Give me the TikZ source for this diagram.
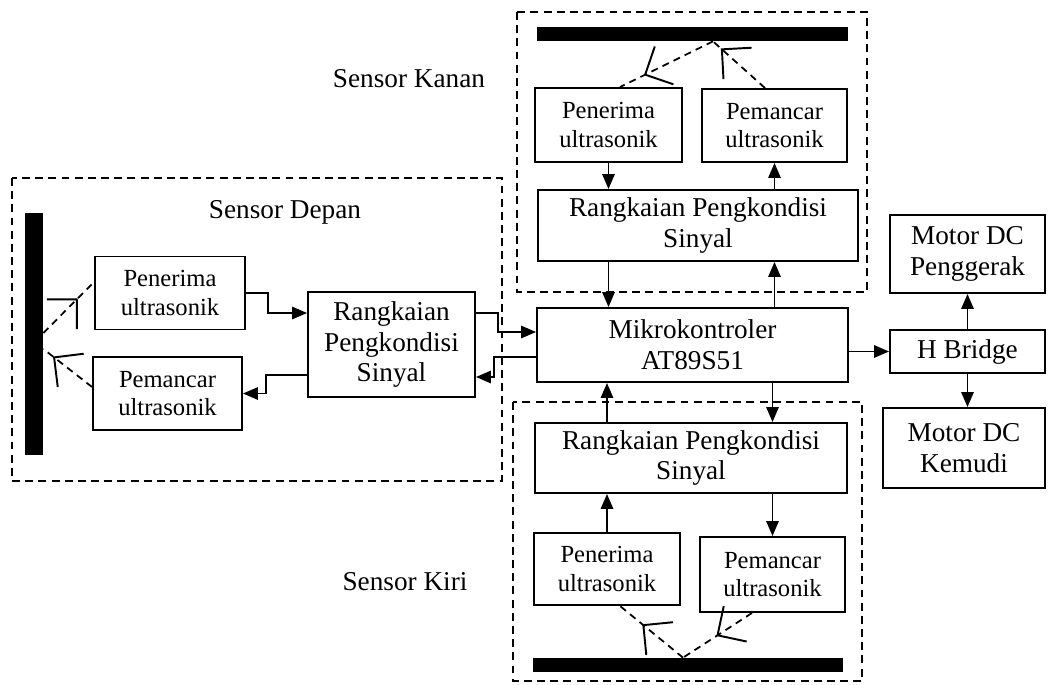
\documentclass[tikz,border=0pt]{standalone}
\usepackage{fontspec}
\setmainfont{Liberation Serif}
\usetikzlibrary{arrows.meta, decorations.markings}

\begin{document}
\begin{tikzpicture}[x=0.02cm, y=-0.02cm,
    blok/.style={draw, line width=1.1pt, align=center, inner sep=1pt, font=\fontsize{14}{16}\selectfont},
    blokbesar/.style={blok, font=\fontsize{15.5}{17.5}\selectfont},
    batang/.style={fill=black, draw=none, inner sep=0pt},
    bingkai/.style={line width=1.1pt, dash pattern=on 4.5pt off 3pt},
    judul/.style={font=\fontsize{15.5}{17.5}\selectfont},
    panah/.style={-{Triangle[length=8.5pt, width=7pt]}, line width=1.1pt},
    pantul/.style={line width=1pt, dash pattern=on 4pt off 3pt, postaction={decorate},
        decoration={markings, mark=at position #1 with {\draw[solid, line width=1.1pt] (-12pt,12pt) -- (0pt,0pt) -- (-12pt,-12pt);}}}]
    \useasboundingbox (0,0) rectangle (1049,684);

    % Draw the dashed frames of the three sensors
    \draw[bingkai] (12,178) rectangle (502,481);
    \draw[bingkai] (517,12) rectangle (867,292);
    \draw[bingkai] (513,402) rectangle (862,681);
    \node[judul] (jDepan) at (285,212) {Sensor Depan};
    \node[judul] (jKanan) at (409,79) {Sensor Kanan};
    \node[judul] (jKiri) at (405,582) {Sensor Kiri};

    % Draw the obstacles as black bars
    \node[batang, minimum width=0.36cm, minimum height=4.84cm] (barD) at (34,334) {};
    \node[batang, minimum width=6.22cm, minimum height=0.28cm] (barKa) at (692.5,34) {};
    \node[batang, minimum width=6.2cm, minimum height=0.28cm] (barKi) at (688,665) {};

    % Draw the front sensor
    \node[blok, minimum width=3.0cm, minimum height=1.46cm] (penD) at (170,293) {Penerima\\ultrasonik};
    \node[blok, minimum width=2.98cm, minimum height=1.46cm] (pemD) at (167.5,393.5) {Pemancar\\ultrasonik};
    \node[blokbesar, minimum width=3.34cm, minimum height=2.1cm] (rpsD) at (391.5,344.5) {Rangkaian\\Pengkondisi\\Sinyal};

    % Draw the right sensor
    \node[blok, minimum width=2.94cm, minimum height=1.48cm] (penKa) at (608.5,125) {Penerima\\ultrasonik};
    \node[blok, minimum width=2.9cm, minimum height=1.46cm] (pemKa) at (774.5,125.5) {Pemancar\\ultrasonik};
    \node[blokbesar, minimum width=6.4cm, minimum height=1.42cm] (rpsKa) at (698,225.5) {Rangkaian Pengkondisi\\Sinyal};

    % Draw the microcontroller
    \node[blokbesar, minimum width=6.22cm, minimum height=1.48cm] (mikro) at (692.5,345) {Mikrokontroler\\AT89S51};

    % Draw the left sensor
    \node[blokbesar, minimum width=6.24cm, minimum height=1.4cm] (rpsKi) at (691,458) {Rangkaian Pengkondisi\\Sinyal};
    \node[blok, minimum width=2.92cm, minimum height=1.44cm] (penKi) at (607,569) {Penerima\\ultrasonik};
    \node[blok, minimum width=2.9cm, minimum height=1.5cm] (pemKi) at (772.5,574.5) {Pemancar\\ultrasonik};

    % Draw the motor driver and motors
    \node[blokbesar, minimum width=3.1cm, minimum height=1.56cm] (motP) at (967.5,254) {Motor DC\\Penggerak};
    \node[blokbesar, minimum width=3.1cm, minimum height=0.86cm] (hb) at (967.5,351.5) {H Bridge};
    \node[blokbesar, minimum width=3.24cm, minimum height=1.6cm] (motK) at (964,448) {Motor DC\\Kemudi};

    % Draw the ultrasonic paths
    \draw[pantul=0.66] ([yshift=0.02cm]barD.east) -- ([yshift=0.22cm]penD.west);
    \draw[pantul=0.78] ([yshift=0.13cm]pemD.west) -- ([yshift=-0.3cm]barD.east);
    \draw[pantul=0.73] ([xshift=0.41cm]barKa.south) -- ([xshift=0.23cm]penKa.north);
    \draw[pantul=0.83] ([xshift=-0.19cm]pemKa.north) -- ([xshift=0.41cm]barKa.south);
    \draw[pantul=0.63] ([xshift=-0.1cm]barKi.north) -- ([xshift=0.26cm]penKi.south);
    \draw[pantul=0.5] ([xshift=-0.41cm]pemKi.south) -- ([xshift=-0.1cm]barKi.north);

    % Draw arrows of the front sensor
    \draw[panah] (penD.east) -- ++(22,0) |- ([yshift=0.63cm]rpsD.west);
    \draw[panah] ([yshift=-0.61cm]rpsD.west) -- ++(-41,0) |- (pemD.east);
    \draw[panah] ([yshift=0.63cm]rpsD.east) -- ++(22,0) |- ([yshift=0.26cm]mikro.west);
    \draw[panah] ([yshift=-0.24cm]mikro.west) -- ++(-42,0) |- ([yshift=-0.65cm]rpsD.east);

    % Draw arrows of the right sensor
    \draw[panah] (penKa.south) -- (penKa.south |- rpsKa.north);
    \draw[panah] (pemKa.south |- rpsKa.north) -- (pemKa.south);
    \draw[panah] (penKa.south |- rpsKa.south) -- (penKa.south |- mikro.north);
    \draw[panah] (pemKa.south |- mikro.north) -- (pemKa.south |- rpsKa.south);

    % Draw arrows of the left sensor
    \draw[panah] (penKi.north |- rpsKi.north) -- (penKi.north |- mikro.south);
    \draw[panah] (pemKi.north |- mikro.south) -- (pemKi.north |- rpsKi.north);
    \draw[panah] (penKi.north) -- (penKi.north |- rpsKi.south);
    \draw[panah] (pemKi.north |- rpsKi.south) -- (pemKi.north);

    % Draw arrows to the motors
    \draw[panah] (mikro.east |- hb.west) -- (hb.west);
    \draw[panah] (hb.north) -- (motP.south);
    \draw[panah] (hb.south) -- (hb.south |- motK.north);
\end{tikzpicture}
\end{document}
